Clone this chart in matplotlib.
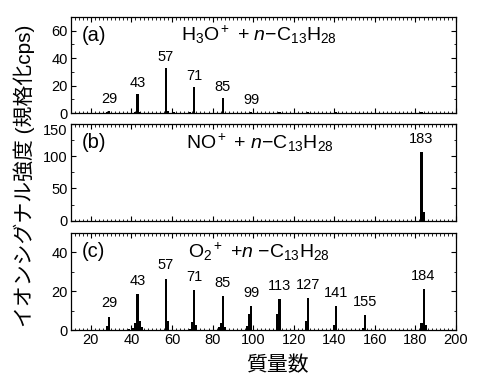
import matplotlib
matplotlib.use('Agg')
import matplotlib.pyplot as plt
from matplotlib.ticker import MultipleLocator

plt.rcParams['font.family'] = ['Liberation Sans', 'Noto Sans CJK JP']
plt.rcParams['mathtext.fontset'] = 'custom'
plt.rcParams['mathtext.rm'] = 'Liberation Sans'
plt.rcParams['mathtext.it'] = 'Liberation Sans:italic'

# spectra: mass number -> normalized cps
a_mass = [28, 29, 42, 43, 44, 57, 58, 61, 69, 71, 85, 99, 113, 127, 141, 183]
a_int = [0.6, 1.8, 0.8, 13.5, 0.6, 33, 1.2, 1.0, 1.0, 19, 11, 1.0, 0.6, 0.6, 0.5, 0.6]
a_peaks = [29, 43, 57, 71, 85, 99]

b_mass = [183, 184]
b_int = [107, 13]
b_peaks = [183]

c_mass = [28, 29, 39, 41, 42, 43, 44, 45, 57, 58, 69, 70, 71, 72, 83, 84, 85, 86,
          97, 98, 99, 112, 113, 126, 127, 140, 141, 154, 155, 183, 184, 185]
c_int = [2.0, 6.9, 0.7, 1.0, 3.5, 18.5, 4.5, 1.5, 26.5, 4.8, 0.7, 4.0, 20.6, 2.5, 1.5, 3.5, 17.5, 1.5,
         2.0, 8.0, 12.4, 8.2, 15.8, 4.5, 16.3, 2.5, 12.4, 1.0, 7.7, 3.5, 21.1, 2.5]
c_peaks = [29, 43, 57, 71, 85, 99, 113, 127, 141, 155, 184]

titles = [r'H$_3$O$^+$ + $n$−C$_{13}$H$_{28}$',
          r'NO$^+$ + $n$−C$_{13}$H$_{28}$',
          r'O$_2$$^+$ +$n$ −C$_{13}$H$_{28}$']
tags = ['(a)', '(b)', '(c)']

fig = plt.figure(figsize=(4.8, 3.84), dpi=100)
left, width = 0.147, 0.803
boxes = [(0.7057, 0.25), (0.4253, 0.2517), (0.1406, 0.2526)]
ylims = [70, 150, 50]
ymaj = [20, 50, 20]
ymin = [10, 25, 10]
offs = [3, 4, 4.5]
data = [(a_mass, a_int, a_peaks), (b_mass, b_int, b_peaks), (c_mass, c_int, c_peaks)]

axs = []
for i, (bot, h) in enumerate(boxes):
    ax = fig.add_axes([left, bot, width, h])
    axs.append(ax)
    mass, inten, peaks = data[i]
    ax.bar(mass, inten, width=1.0, color='black', linewidth=0)
    lookup = dict(zip(mass, inten))
    for p in peaks:
        ax.annotate(str(p), (p, lookup[p]), xytext=(0, offs[i]), textcoords='offset points',
                    ha='center', va='bottom', fontsize=10.5)
    ax.set_xlim(10, 200)
    ax.set_ylim(0, ylims[i])
    ax.xaxis.set_major_locator(MultipleLocator(20))
    ax.xaxis.set_minor_locator(MultipleLocator(2))
    ax.yaxis.set_major_locator(MultipleLocator(ymaj[i]))
    ax.yaxis.set_minor_locator(MultipleLocator(ymin[i]))
    ax.tick_params(which='both', direction='in', top=True, right=True, labelsize=10.5, pad=2)
    ax.tick_params(which='major', length=3.5, width=0.8)
    ax.tick_params(which='minor', length=1.8, width=0.6)
    for s in ax.spines.values():
        s.set_linewidth(0.9)
    if i < 2:
        ax.tick_params(labelbottom=False)
    ax.text(0.03, 0.81, tags[i], transform=ax.transAxes, fontsize=14.5, va='center')
    ax.text(0.49, 0.81, titles[i], transform=ax.transAxes, fontsize=14, ha='center', va='center')

# keep the "150" of (b) clear of the "0" of (a)
fig.canvas.draw()
for t in axs[1].yaxis.get_major_ticks():
    if t.label1.get_text() == '150':
        t.label1.set_va('top')

fig.text(0.05, 0.542, 'イオンシグナル強度 (規格化cps)', rotation=90, ha='center', va='center', fontsize=15)
fig.text(0.577, 0.049, '質量数', ha='center', va='center', fontsize=15)

fig.savefig('out.png', dpi=100)
